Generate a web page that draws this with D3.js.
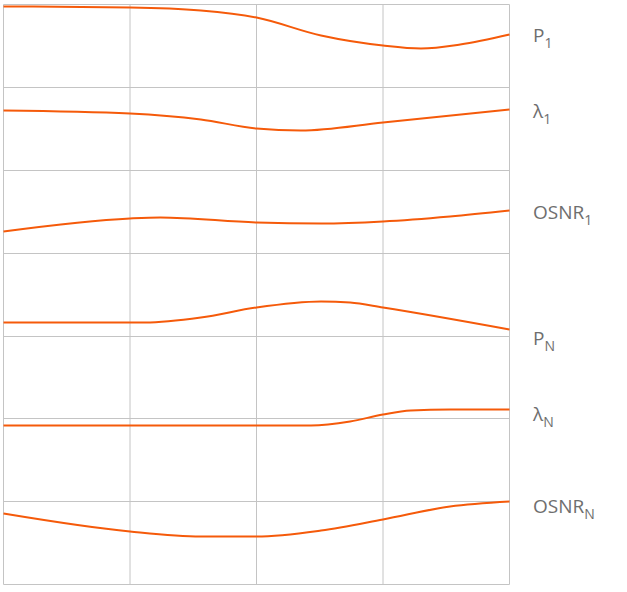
<!DOCTYPE html>
<html><head><meta charset="utf-8">
<script src="https://cdn.jsdelivr.net/npm/d3@7"></script>
<style>body{margin:0;background:#fff}</style>
</head><body>
<svg id="c" width="627" height="592"></svg>
<script>
const xs = [0,1,2,3,4];
const labels = [["P","1"],["λ","1"],["OSNR","1"],["P","N"],["λ","N"],["OSNR","N"]];
const labelY = [42,118,219,345,421,513];
const series = [
  [[0,6],[1,7],[1.56,10],[2,17],[2.51,35],[3,45],[3.3,48],[3.61,44],[4,34]],
  [[0,110],[1,113],[1.56,119],[2,128],[2.35,130],[3,122],[4,109]],
  [[0,231],[1,218],[1.24,217],[2,222],[2.51,223],[3,221],[3.53,216],[4,210]],
  [[0,322],[1.12,322],[1.56,317],[2,307],[2.51,301],[2.74,302],[3,307],[4,329]],
  [[0,425],[2.43,425],[2.74,421],[3,414],[3.22,410],[3.53,409],[4,409]],
  [[0,513],[1,531],[1.56,536],[2,536],[2.51,530],[3,519],[3.53,506],[4,501]]
];
const yTicks = [0,83,166,249,332,414,497,580];
const svg = d3.select("#c");
const x = d3.scaleLinear().domain([0,4]).range([3.5,509.5]);
const y = d3.scaleLinear().domain([0,580]).range([4.5,584.5]);
const g = svg.append("g");
g.selectAll("line.v").data(xs).join("line").attr("x1",d=>x(d)).attr("x2",d=>x(d))
 .attr("y1",y(0)).attr("y2",y(580)).attr("stroke","#c4c4c4").attr("stroke-width",1);
g.selectAll("line.h").data(yTicks).join("line").attr("y1",d=>y(d)).attr("y2",d=>y(d))
 .attr("x1",x(0)).attr("x2",x(4)).attr("stroke","#c4c4c4").attr("stroke-width",1);
const line = d3.line().x(d=>x(d[0])).y(d=>y(d[1]-4)).curve(d3.curveMonotoneX);
svg.selectAll("path.s").data(series).join("path").attr("d",line)
 .attr("fill","none").attr("stroke","#f55a0a").attr("stroke-width",2);
const t = svg.selectAll("text.l").data(labels).join("text")
 .attr("x",533).attr("y",(d,i)=>labelY[i]).attr("fill","#6e6e6e")
 .style("font-family","'Open Sans', Lato, sans-serif").style("font-size","19px").style("font-weight","500");
t.append("tspan").text(d=>d[0]);
t.append("tspan").attr("dy",6).style("font-size","14px").text(d=>d[1]);
</script>
</body></html>
